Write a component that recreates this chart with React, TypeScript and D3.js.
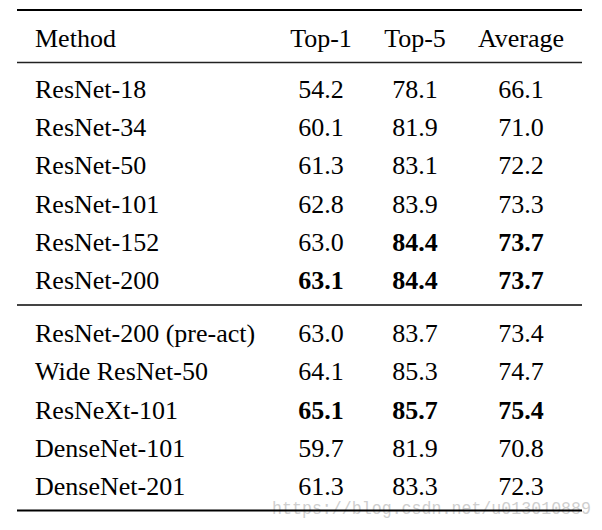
import React from "react";
import * as d3 from "d3";

const columns = ["Method", "Top-1", "Top-5", "Average"];
const group1Methods = ["ResNet-18", "ResNet-34", "ResNet-50", "ResNet-101", "ResNet-152", "ResNet-200"];
const group1Top1 = ["54.2", "60.1", "61.3", "62.8", "63.0", "63.1"];
const group1Top5 = ["78.1", "81.9", "83.1", "83.9", "84.4", "84.4"];
const group1Avg = ["66.1", "71.0", "72.2", "73.3", "73.7", "73.7"];
const group1Bold = [[false, false, false], [false, false, false], [false, false, false], [false, false, false], [false, true, true], [true, true, true]];

const group2Methods = ["ResNet-200 (pre-act)", "Wide ResNet-50", "ResNeXt-101", "DenseNet-101", "DenseNet-201"];
const group2Top1 = ["63.0", "64.1", "65.1", "59.7", "61.3"];
const group2Top5 = ["83.7", "85.3", "85.7", "81.9", "83.3"];
const group2Avg = ["73.4", "74.7", "75.4", "70.8", "72.3"];
const group2Bold = [[false, false, false], [false, false, false], [true, true, true], [false, false, false], [false, false, false]];

const watermark = "https://blog.csdn.net/u013010889";

const W = 602;
const H = 530;
const FONT = "'Liberation Serif', 'Times New Roman', serif";

export default function App() {
  const colX = d3.scaleOrdinal<string, number>().domain(columns).range([35, 321, 415, 521]);
  const row1 = d3.scaleLinear().domain([0, 5]).range([98, 289]);
  const row2 = d3.scaleLinear().domain([0, 4]).range([342, 495]);
  const lineX0 = 17;
  const lineX1 = 582;

  const renderGroup = (
    methods: string[],
    t1: string[],
    t5: string[],
    av: string[],
    bold: boolean[][],
    y: d3.ScaleLinear<number, number>
  ) =>
    methods.map((m, i) => {
      const vals = [t1[i], t5[i], av[i]];
      return (
        <g key={m}>
          <text x={colX("Method")} y={y(i)} textAnchor="start">{m}</text>
          {vals.map((v, j) => (
            <text
              key={j}
              x={colX(columns[j + 1])}
              y={y(i)}
              textAnchor="middle"
              fontWeight={bold[i][j] ? "bold" : "normal"}
            >
              {v}
            </text>
          ))}
        </g>
      );
    });

  return (
    <svg
      width={W}
      height={H}
      style={{ position: "absolute", left: 0, top: 0, background: "#fff" }}
      fontFamily={FONT}
      fontSize={26}
      fill="#000"
    >
      <rect x={0} y={0} width={W} height={H} fill="#fff" />
      <line x1={lineX0} x2={lineX1} y1={10} y2={10} stroke="#000" strokeWidth={2} />
      {columns.map((c, i) => (
        <text key={c} x={colX(c)} y={47} textAnchor={i === 0 ? "start" : "middle"}>{c}</text>
      ))}
      <line x1={lineX0} x2={lineX1} y1={62.5} y2={62.5} stroke="#222" strokeWidth={1.5} />
      {renderGroup(group1Methods, group1Top1, group1Top5, group1Avg, group1Bold, row1)}
      <line x1={lineX0} x2={lineX1} y1={305} y2={305} stroke="#444" strokeWidth={2} />
      {renderGroup(group2Methods, group2Top1, group2Top5, group2Avg, group2Bold, row2)}
      <text
        x={272}
        y={514}
        fontFamily="'Liberation Mono', 'DejaVu Sans Mono', monospace"
        fontSize={18}
        textLength={319}
        lengthAdjust="spacingAndGlyphs"
        fill="#cfcfcf"
      >
        {watermark}
      </text>
      <line x1={lineX0} x2={lineX1} y1={510.5} y2={510.5} stroke="#000" strokeWidth={2} />
    </svg>
  );
}
